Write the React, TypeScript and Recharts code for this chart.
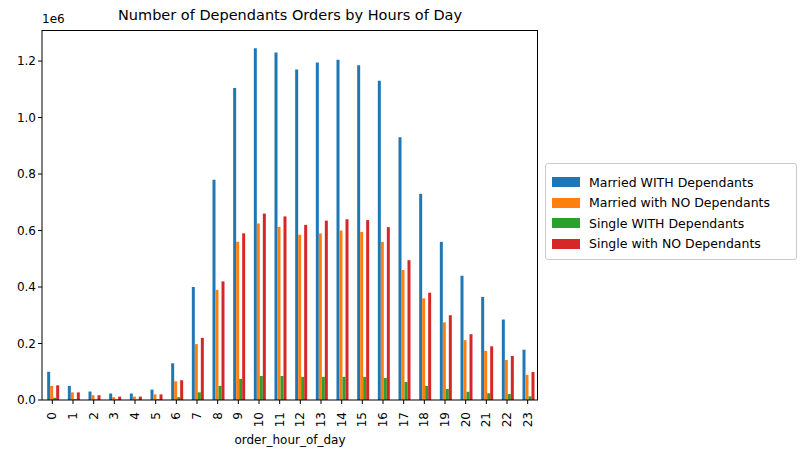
import React from "react";
import { BarChart, Bar, XAxis, YAxis } from "recharts";

const hours = Array.from({ length: 24 }, (_, i) => String(i));
const marriedWith = [0.10,0.05,0.03,0.023,0.023,0.037,0.13,0.40,0.78,1.105,1.245,1.23,1.17,1.195,1.205,1.185,1.13,0.93,0.73,0.56,0.44,0.365,0.285,0.178];
const marriedNo = [0.05,0.027,0.017,0.01,0.012,0.02,0.066,0.198,0.39,0.56,0.625,0.613,0.585,0.59,0.60,0.595,0.56,0.46,0.36,0.275,0.212,0.174,0.142,0.089];
const singleWith = [0.008,0.003,0.002,0.002,0.002,0.003,0.01,0.027,0.05,0.075,0.085,0.085,0.082,0.082,0.082,0.082,0.078,0.064,0.05,0.039,0.029,0.024,0.021,0.013];
const singleNo = [0.052,0.027,0.017,0.012,0.012,0.02,0.07,0.22,0.42,0.59,0.66,0.65,0.62,0.635,0.64,0.637,0.612,0.495,0.38,0.30,0.233,0.19,0.156,0.099];
const yTicks = [0, 0.2e6, 0.4e6, 0.6e6, 0.8e6, 1.0e6, 1.2e6];

const series = [
  { key: "mw", name: "Married WITH Dependants", color: "#1f77b4", vals: marriedWith },
  { key: "mn", name: "Married with NO Dependants", color: "#ff7f0e", vals: marriedNo },
  { key: "sw", name: "Single WITH Dependants", color: "#2ca02c", vals: singleWith },
  { key: "sn", name: "Single with NO Dependants", color: "#d62728", vals: singleNo },
];

const data = hours.map((h, i) => {
  const row: any = { hour: h };
  series.forEach((s) => (row[s.key] = s.vals[i] * 1e6));
  return row;
});

const font = "DejaVu Sans, sans-serif";

const LegendBox = () => (
  <div style={{ position: "absolute", left: 545, top: 163, width: 252, height: 97, border: "1px solid #ccc", borderRadius: 3, background: "#fff", fontFamily: font, fontSize: 12.5, boxSizing: "border-box", padding: "8px 6px" }}>
    {series.map((s) => (
      <div key={s.key} style={{ display: "flex", alignItems: "center", height: 20.5 }}>
        <span style={{ display: "inline-block", width: 28, height: 10, background: s.color, marginRight: 9 }} />
        <span style={{ color: "#000" }}>{s.name}</span>
      </div>
    ))}
  </div>
);

export default function App() {
  return (
    <div style={{ position: "absolute", left: 0, top: 0, width: 806, height: 457, background: "#fff", fontFamily: font }}>
      <div style={{ position: "absolute", left: 0, width: 580, top: 7, textAlign: "center", fontSize: 14.5, color: "#000" }}>
        Number of Dependants Orders by Hours of Day
      </div>
      <div style={{ position: "absolute", left: 42, top: 12, fontSize: 12, color: "#000" }}>1e6</div>
      <BarChart width={806} height={457} data={data} margin={{ top: 30, right: 268, left: 0, bottom: 0 }} barCategoryGap="25%" barGap={0}>
        <XAxis dataKey="hour" height={57} interval={0} stroke="#000" tickLine={{ stroke: "#000" }} tickSize={4}
          tick={({ x, y, payload }: any) => (
            <text x={x} y={y + 6} transform={`rotate(-90 ${x} ${y + 6})`} textAnchor="end" dominantBaseline="central" fontSize={12} fill="#000" fontFamily={font}>{payload.value}</text>
          )}
          label={{ value: "order_hour_of_day", position: "insideBottom", offset: 13, fill: "#000", fontSize: 12, fontFamily: font }} />
        <YAxis width={42} domain={[0, 1.31e6]} ticks={yTicks} tickFormatter={(v: number) => (v / 1e6).toFixed(1)} stroke="#000" tickLine={{ stroke: "#000" }} tickSize={4} tick={{ fill: "#000", fontSize: 12, fontFamily: font }} />
        {series.map((s) => (
          <Bar key={s.key} dataKey={s.key} name={s.name} fill={s.color} isAnimationActive={false} />
        ))}
      </BarChart>
      <div style={{ position: "absolute", left: 42, top: 30, width: 496, height: 370, borderTop: "1px solid #000", borderRight: "1px solid #000", boxSizing: "border-box", pointerEvents: "none" }} />
      <LegendBox />
    </div>
  );
}
